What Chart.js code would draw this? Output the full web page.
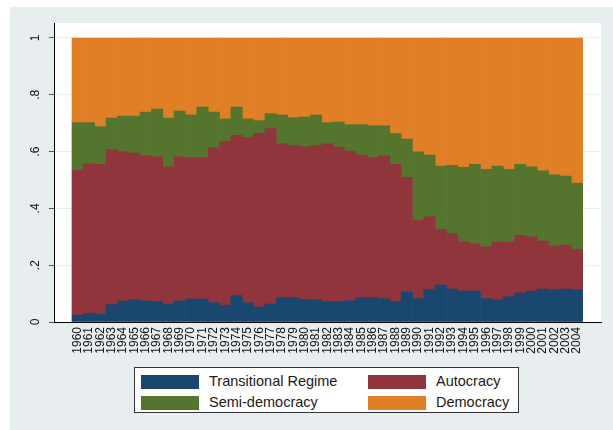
<!DOCTYPE html>
<html>
<head>
<meta charset="utf-8">
<script src="https://cdn.jsdelivr.net/npm/chart.js@4"></script>
<style>
  html, body { margin: 0; padding: 0; background: #ffffff; }
  #wrap { position: relative; width: 613px; height: 430px; }
  canvas { display: block; }
  #legend {
    position: absolute; left: 134px; top: 367px; width: 385px; height: 46px;
    box-sizing: border-box; border: 1px solid #333; background: #fff;
    font-family: "Liberation Sans", Arial, sans-serif; font-size: 14.5px; color: #1a1a1a;
  }
  .item { position: absolute; height: 16px; line-height: 16px; white-space: nowrap; }
  .sw { position: absolute; left: 0; top: 1px; width: 58px; height: 14px; }
  .lb { position: absolute; left: 68px; top: -1px; }
</style>
</head>
<body>
<div id="wrap">
  <canvas id="c" width="613" height="430"></canvas>
  <div id="legend"></div>
</div>
<script>
const years = [1960,1961,1962,1963,1964,1965,1966,1967,1968,1969,1970,1971,1972,1973,1974,1975,1976,1977,1978,1979,1980,1981,1982,1983,1984,1985,1986,1987,1988,1989,1990,1991,1992,1993,1994,1995,1996,1997,1998,1999,2000,2001,2002,2003,2004];

const transitional = [0.024,0.031,0.027,0.061,0.074,0.079,0.074,0.072,0.065,0.074,
  0.081,0.081,0.068,0.059,0.093,0.068,0.053,0.065,0.086,0.086,
  0.079,0.079,0.072,0.072,0.075,0.086,0.086,0.082,0.072,0.106,
  0.082,0.114,0.130,0.116,0.109,0.109,0.082,0.079,0.089,0.102,
  0.109,0.116,0.114,0.116,0.114];

const autocracy = [0.510,0.527,0.528,0.546,0.526,0.516,0.512,0.510,0.481,0.508,
  0.498,0.498,0.546,0.576,0.564,0.581,0.611,0.616,0.541,0.535,
  0.538,0.542,0.555,0.544,0.527,0.502,0.493,0.504,0.483,0.403,
  0.277,0.256,0.196,0.195,0.173,0.166,0.182,0.203,0.193,0.203,
  0.191,0.169,0.154,0.155,0.141];

const semiDemocracy = [0.168,0.144,0.133,0.111,0.125,0.130,0.153,0.168,0.172,0.161,
  0.150,0.178,0.125,0.080,0.100,0.066,0.045,0.053,0.102,0.099,
  0.105,0.108,0.075,0.088,0.093,0.107,0.112,0.105,0.109,0.135,
  0.240,0.218,0.223,0.241,0.263,0.280,0.274,0.267,0.256,0.250,
  0.246,0.247,0.250,0.243,0.234];

const democracy = [0.298,0.298,0.312,0.282,0.275,0.275,0.261,0.250,0.282,0.257,
  0.271,0.243,0.261,0.285,0.243,0.285,0.291,0.266,0.271,0.280,
  0.278,0.271,0.298,0.296,0.305,0.305,0.309,0.309,0.336,0.356,
  0.401,0.412,0.451,0.448,0.455,0.445,0.462,0.451,0.462,0.445,
  0.454,0.468,0.482,0.486,0.511];

const seriesNames = ["Transitional Regime", "Autocracy", "Semi-democracy", "Democracy"];
const yTickValues = [0, 0.2, 0.4, 0.6, 0.8, 1];
const yTickLabels = ["0", ".2", ".4", ".6", ".8", "1"];

const colors = ["#1a476f", "#90353b", "#55752f", "#e07f26"];
const seriesData = [transitional, autocracy, semiDemocracy, democracy];

const datasets = seriesNames.map((name, i) => ({
  label: name,
  data: years.map((yr, j) => ({ x: yr, y: seriesData[i][j] })),
  backgroundColor: colors[i],
  borderWidth: 0,
  barPercentage: 1,
  categoryPercentage: 1
}));

const bgPlugin = {
  id: 'bg',
  beforeDraw(chart) {
    const { ctx, chartArea: a } = chart;
    ctx.save();
    ctx.fillStyle = '#ffffff';
    ctx.fillRect(0, 0, chart.width, chart.height);
    ctx.fillStyle = '#e8eef0';
    ctx.fillRect(10, 7, chart.width - 10, chart.height - 7);
    ctx.fillStyle = '#ffffff';
    ctx.fillRect(a.left, a.top, a.right - a.left, a.bottom - a.top);
    ctx.restore();
  }
};

new Chart(document.getElementById('c'), {
  type: 'bar',
  data: { datasets },
  plugins: [bgPlugin],
  options: {
    responsive: false,
    animation: false,
    devicePixelRatio: 1,
    layout: { padding: { left: 10, top: 23, right: 12, bottom: 68 } },
    plugins: { legend: { display: false }, tooltip: { enabled: false } },
    scales: {
      x: {
        type: 'linear',
        stacked: true,
        offset: false,
        min: 1957.914,
        max: 2006.114,
        afterBuildTicks: (s) => { s.ticks = years.map(v => ({ value: v })); },
        afterFit: (s) => { s.height = 40; },
        grid: { display: false, drawTicks: false, offset: false },
        border: { display: true, color: '#000', width: 1 },
        ticks: {
          autoSkip: false, minRotation: 90, maxRotation: 90, padding: 5,
          color: '#111',
          font: { family: 'Liberation Sans', size: 12 },
          callback: (v) => String(v)
        }
      },
      y: {
        type: 'linear',
        stacked: true,
        min: 0,
        max: 1.0528,
        afterBuildTicks: (s) => { s.ticks = yTickValues.map(v => ({ value: v })); },
        afterFit: (s) => { s.width = 44; },
        grid: { color: '#e6eef0', lineWidth: 1, tickColor: '#555', tickLength: 5 },
        border: { display: true, color: '#000', width: 1 },
        ticks: {
          minRotation: 90, maxRotation: 90, crossAlign: 'center', padding: 8,
          color: '#111',
          font: { family: 'Liberation Sans', size: 12 },
          callback: (v) => { const k = yTickValues.indexOf(v); return k >= 0 ? yTickLabels[k] : ''; }
        }
      }
    }
  }
});

// legend (two columns)
const legend = document.getElementById('legend');
const pos = [[6, 6], [233, 6], [6, 27], [233, 27]];
seriesNames.forEach((name, i) => {
  const it = document.createElement('div');
  it.className = 'item';
  it.style.left = pos[i][0] + 'px';
  it.style.top = pos[i][1] + 'px';
  const sw = document.createElement('div');
  sw.className = 'sw';
  sw.style.background = colors[i];
  const lb = document.createElement('span');
  lb.className = 'lb';
  lb.textContent = name;
  it.appendChild(sw); it.appendChild(lb);
  legend.appendChild(it);
});
</script>
</body>
</html>
